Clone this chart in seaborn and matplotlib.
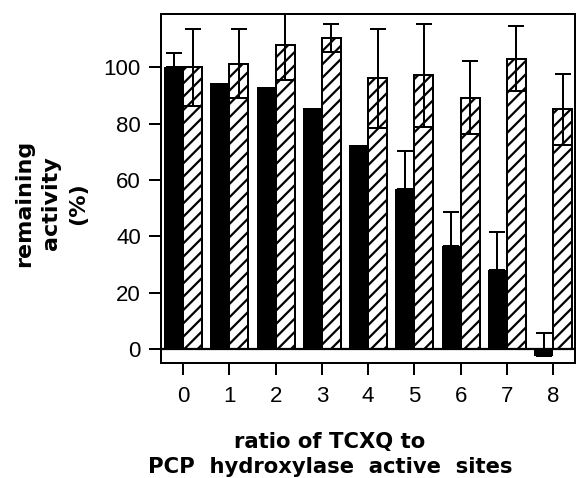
import numpy as np
import pandas as pd
import matplotlib
matplotlib.use('Agg')
import matplotlib.pyplot as plt
import seaborn as sns

# values
ratios = [0, 1, 2, 3, 4, 5, 6, 7, 8]
treated = [100, 94.6, 93, 85.7, 72.3, 56.9, 36.5, 28.2, -2.6]
treated_err = [5.2, 0, 0, 0, 0, 13.4, 12.1, 13.4, 8.1]
control = [100, 101.3, 107.9, 110.5, 96.1, 97.2, 89.2, 103.1, 85.1]
control_err = [13.8, 12.3, 12.5, 5.1, 17.6, 18.2, 13.0, 11.5, 12.7]

sns.set_style('ticks')
plt.rcParams['font.family'] = ['Liberation Sans', 'DejaVu Sans']
plt.rcParams['hatch.linewidth'] = 2.0
plt.rcParams['text.color'] = 'black'
plt.rcParams['axes.labelcolor'] = 'black'

data = pd.DataFrame({
    'ratio': ratios * 2,
    'activity': treated + control,
    'series': ['treated'] * len(ratios) + ['control'] * len(ratios),
})

fig = plt.figure(figsize=(7.2, 5.975), dpi=80)
ax = fig.add_axes([0.2795, 0.2406, 0.7185, 0.7301])

sns.barplot(data=data, x='ratio', y='activity', hue='series',
            hue_order=['treated', 'control'], palette=['black', 'white'],
            edgecolor='black', linewidth=1.8, width=0.82, errorbar=None,
            legend=False, ax=ax)

treated_bars = ax.containers[0]
control_bars = ax.containers[1]
for p in treated_bars:
    p.set_linewidth(0)
for p in control_bars:
    p.set_hatch('//')

# treated: upper error only
tx = np.array([p.get_x() + p.get_width() / 2 for p in treated_bars])
terr = np.array(treated_err)
m = terr > 0
ax.errorbar(tx[m], np.array(treated)[m],
            yerr=[np.zeros(m.sum()), terr[m]], fmt='none',
            ecolor='black', elinewidth=1.8, capsize=7.5, capthick=1.8)

# control: symmetric error, lower cap spans the bar
cx = np.array([p.get_x() + p.get_width() / 2 for p in control_bars])
cw = np.array([p.get_width() for p in control_bars])
cv = np.array(control)
cerr = np.array(control_err)
ax.errorbar(cx, cv, yerr=[np.zeros(len(cv)), cerr], fmt='none',
            ecolor='black', elinewidth=1.8, capsize=7.5, capthick=1.8)
ax.vlines(cx, cv - cerr, cv, color='black', lw=1.8)
ax.hlines(cv - cerr, cx - cw / 2, cx + cw / 2, color='black', lw=1.8)

ax.axhline(0, color='black', lw=2, zorder=3)

ax.set_ylim(-5, 119)
ax.set_xlim(-0.48, 8.47)
ax.set_yticks([0, 20, 40, 60, 80, 100])
ax.set_xticks(range(len(ratios)))
ax.set_xticklabels([str(r) for r in ratios])

for s in ax.spines.values():
    s.set_visible(True)
    s.set_linewidth(1.8)
    s.set_color('black')
ax.tick_params(axis='both', direction='out', length=11, width=1.8,
               labelsize=20, colors='black', labelcolor='black', pad=7)
ax.tick_params(axis='x', pad=10)

ax.set_xlabel('ratio of TCXQ to\nPCP  hydroxylase  active  sites',
              fontsize=19, fontweight='bold', family='DejaVu Sans',
              linespacing=1.3)
ax.xaxis.set_label_coords(0.408, -0.197)
ax.set_ylabel('remaining\nactivity\n(%)', fontsize=20, fontweight='bold',
              family='DejaVu Sans', linespacing=1.45)
ax.yaxis.set_label_coords(-0.176, 0.458)

fig.savefig('out.png', dpi=80)
